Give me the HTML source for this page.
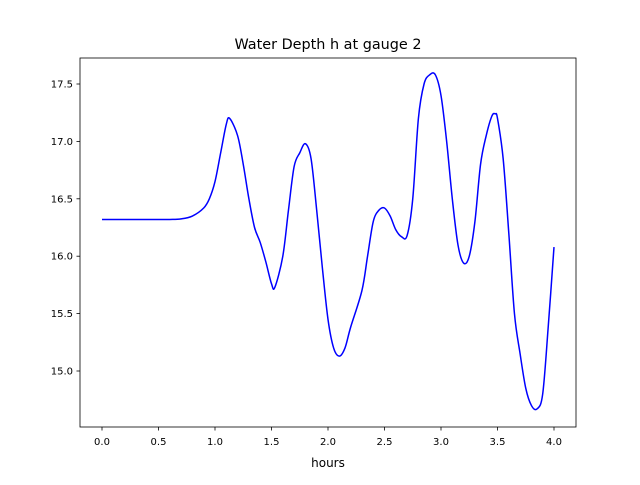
<!DOCTYPE html>
<html><head><meta charset="utf-8"><style>
body{margin:0;background:#fff;}
svg text{font-family:"DejaVu Sans","Liberation Sans",sans-serif;fill:#000;}
</style></head><body>
<svg id="chart" width="640" height="480">
<rect width="640" height="480" fill="#fff"/>
<text x="328" y="49" font-size="14.4" text-anchor="middle">Water Depth h at gauge 2</text>
<g id="xticks"></g>
<g id="yticks"></g>
<path id="line" fill="none" stroke="#0000ff" stroke-width="1.5"/>
<rect x="80" y="58" width="496" height="369" fill="none" stroke="#000" stroke-width="0.8"/>
<text x="328" y="467" font-size="12" text-anchor="middle">hours</text>
</svg>
<script>
const hours=[0,0.2,0.4,0.6,0.7,0.8,0.9,0.95,1.0,1.05,1.1,1.13,1.2,1.25,1.3,1.35,1.4,1.45,1.5,1.53,1.6,1.65,1.7,1.75,1.8,1.85,1.9,1.95,2.0,2.05,2.1,2.15,2.2,2.3,2.35,2.4,2.45,2.5,2.55,2.6,2.65,2.7,2.75,2.8,2.85,2.9,2.95,3.0,3.05,3.1,3.15,3.2,3.25,3.3,3.35,3.4,3.45,3.48,3.5,3.55,3.6,3.65,3.7,3.75,3.8,3.85,3.9,3.95,4.0];
const depth=[16.32,16.32,16.32,16.32,16.325,16.35,16.42,16.5,16.65,16.9,17.15,17.2,17.05,16.8,16.5,16.25,16.12,15.95,15.76,15.73,16.0,16.4,16.78,16.9,16.98,16.85,16.4,15.9,15.45,15.2,15.13,15.2,15.38,15.7,16.0,16.3,16.4,16.42,16.35,16.23,16.17,16.18,16.5,17.2,17.5,17.58,17.58,17.4,17.0,16.5,16.1,15.94,16.0,16.3,16.8,17.05,17.22,17.24,17.2,16.85,16.2,15.5,15.15,14.85,14.7,14.67,14.8,15.4,16.08];
const xTickLabels=["0.0","0.5","1.0","1.5","2.0","2.5","3.0","3.5","4.0"];
const xTickVals=[0,0.5,1,1.5,2,2.5,3,3.5,4];
const yTickLabels=["15.0","15.5","16.0","16.5","17.0","17.5"];
const yTickVals=[15,15.5,16,16.5,17,17.5];
const NS="http://www.w3.org/2000/svg";
const X=v=>102+v*113;
const Y=v=>371-(v-15)*114.8;
const xg=document.getElementById('xticks'),yg=document.getElementById('yticks');
xTickVals.forEach((v,i)=>{
 const l=document.createElementNS(NS,'line');
 l.setAttribute('x1',X(v));l.setAttribute('x2',X(v));l.setAttribute('y1',427);l.setAttribute('y2',430.5);l.setAttribute('stroke','#000');l.setAttribute('stroke-width','0.8');
 
 
 xg.appendChild(l);
 const t=document.createElementNS(NS,'text');
 t.setAttribute('x',X(v));t.setAttribute('y',445);t.setAttribute('font-size','10');t.setAttribute('text-anchor','middle');t.textContent=xTickLabels[i];
 
 
 xg.appendChild(t);
});
yTickVals.forEach((v,i)=>{
 const l=document.createElementNS(NS,'line');
 l.setAttribute('x1',76.5);l.setAttribute('x2',80);l.setAttribute('y1',Y(v));l.setAttribute('y2',Y(v));l.setAttribute('stroke','#000');l.setAttribute('stroke-width','0.8');
 
 
 yg.appendChild(l);
 const t=document.createElementNS(NS,'text');
 t.setAttribute('x',73);t.setAttribute('y',Y(v)+3.5);t.setAttribute('font-size','10');t.setAttribute('text-anchor','end');t.textContent=yTickLabels[i];
 
 
 yg.appendChild(t);
});
const pts=hours.map((h,i)=>[X(h),Y(depth[i])]);
let d='M'+pts[0][0]+','+pts[0][1];
for(let i=0;i<pts.length-1;i++){
 const p0=pts[Math.max(0,i-1)],p1=pts[i],p2=pts[i+1],p3=pts[Math.min(pts.length-1,i+2)];
 const c1=[p1[0]+(p2[0]-p0[0])/6,p1[1]+(p2[1]-p0[1])/6];
 const c2=[p2[0]-(p3[0]-p1[0])/6,p2[1]-(p3[1]-p1[1])/6];
 d+=' C'+c1+' '+c2+' '+p2;
}
document.getElementById('line').setAttribute('d',d);
</script>
</body></html>
